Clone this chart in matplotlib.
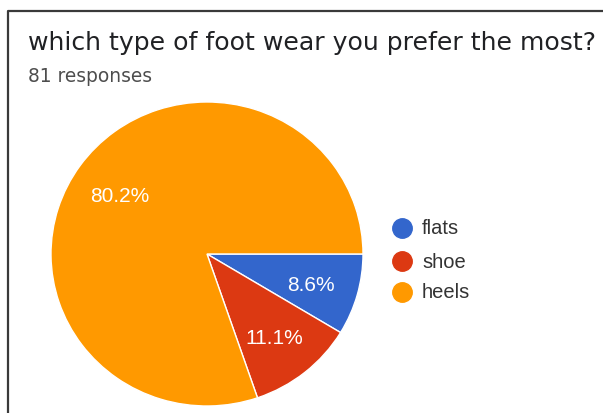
import matplotlib
matplotlib.use("Agg")
import matplotlib.pyplot as plt
from matplotlib.lines import Line2D

# Survey answers: "which type of foot wear you prefer the most?"
categories = ["flats", "shoe", "heels"]
counts = [7, 9, 65]
colors = ["#3366CC", "#DC3912", "#FF9900"]
title = "which type of foot wear you prefer the most?"
subtitle = "81 responses"

W, H = 603, 414
fig = plt.figure(figsize=(W / 100, H / 100), dpi=100)
fig.patch.set_facecolor("white")

# pie area in pixels: centre (207, 255), half-width 156, half-height 152
cx, cy, rx, ry = 207, 255, 156, 152
ax = fig.add_axes([(cx - rx) / W, (H - cy - ry) / H, 2 * rx / W, 2 * ry / H])
wedges, _, autotexts = ax.pie(
    counts,
    colors=colors,
    startangle=0,
    counterclock=False,
    autopct="%1.1f%%",
    pctdistance=0.69,
    radius=1.0,
    wedgeprops=dict(edgecolor="white", linewidth=1.0),
    textprops=dict(color="white", fontsize=15, family="Liberation Sans"),
)
for t in autotexts:
    t.set_va("center_baseline")
ax.set_xlim(-1, 1)
ax.set_ylim(-1, 1)
ax.set_aspect("auto")
ax.axis("off")

# card border (top and left edges)
fig.add_artist(Line2D([7.5 / W, 7.5 / W, 1.0], [0.0, 1 - 12 / H, 1 - 12 / H],
                      transform=fig.transFigure, color="#3a3a3a", linewidth=1.6))

fig.text(28 / W, 1 - 50 / H, title, fontsize=18.1, family="DejaVu Sans",
         color="#202124", ha="left", va="baseline")
fig.text(28 / W, 1 - 82 / H, subtitle, fontsize=13.4, family="DejaVu Sans",
         color="#4d4d4d", ha="left", va="baseline")

# legend
leg_y = [229, 262, 293]
for lab, col, y in zip(categories, colors, leg_y):
    fig.add_artist(Line2D([402 / W], [1 - y / H], transform=fig.transFigure,
                          marker="o", markersize=14, color=col, linestyle=""))
    fig.text(422 / W, 1 - y / H, lab, fontsize=14.5, family="Liberation Sans",
             color="#333333", ha="left", va="center")

fig.savefig("out.png", dpi=100)
